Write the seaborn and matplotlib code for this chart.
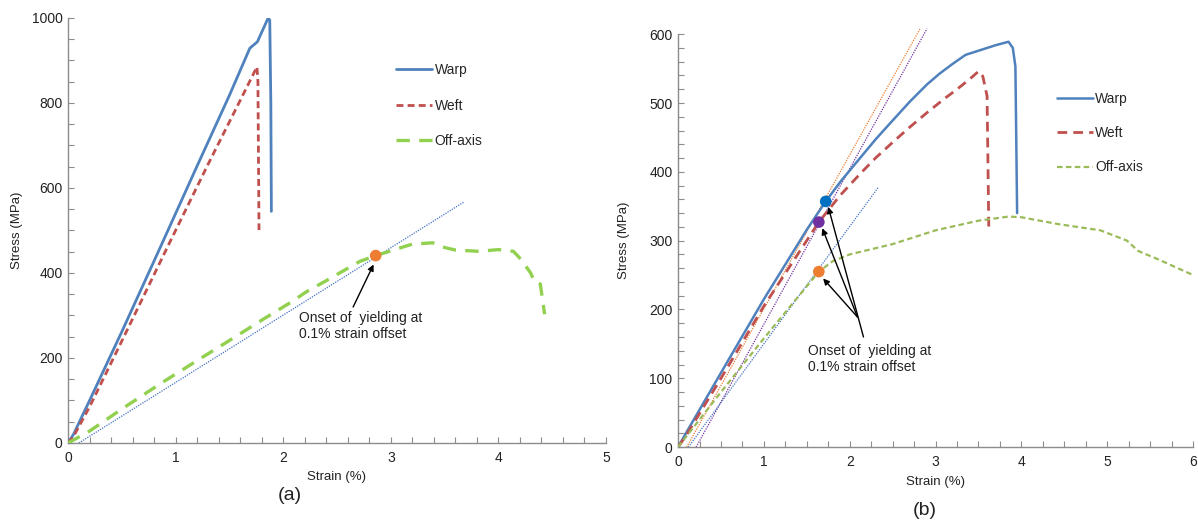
import numpy as np
import pandas as pd
import matplotlib
matplotlib.use("Agg")
import matplotlib.pyplot as plt
from matplotlib.lines import Line2D
from matplotlib.ticker import MultipleLocator
import seaborn as sns

sns.set_theme(style="white")
plt.rcParams['font.family'] = ['Liberation Sans', 'DejaVu Sans']

# ---------------- Data: panel (a) ----------------
warp_a_x = [0, 0.05, 0.2, 0.5, 0.855, 1.2, 1.5, 1.69, 1.76, 1.86, 1.875, 1.885, 1.89]
warp_a_y = [0, 20, 100, 262, 459, 652, 818, 929, 944, 1000, 995, 800, 545]
weft_a_x = [0, 0.05, 0.2, 0.5, 0.92, 1.3, 1.6, 1.756, 1.765, 1.775]
weft_a_y = [0, 15, 85, 240, 459, 655, 806, 885, 850, 501]
off_a_x = [0, 0.2, 0.5, 0.855, 1.2, 1.48, 1.8, 2.09, 2.21, 2.4, 2.71, 2.86, 3.0, 3.2,
           3.39, 3.5, 3.6, 3.82, 4.0, 4.14, 4.21, 4.3, 4.34, 4.39, 4.43]
off_a_y = [0, 28, 80, 139, 194, 238, 289, 334, 355, 382, 427, 441, 452, 468,
           471, 460, 454, 451, 455, 451, 432, 400, 377, 374, 303]
offset_a_x = [0.1, 3.68]
offset_a_y = [0, 567]
yield_a_x = [2.86]
yield_a_y = [441]

# ---------------- Data: panel (b) ----------------
warp_b_x = [0, 0.1, 0.5, 1.0, 1.5, 1.72, 1.9, 2.12, 2.3, 2.51, 2.7, 2.9, 3.05, 3.2,
            3.35, 3.4, 3.5, 3.7, 3.85, 3.9, 3.93, 3.95]
warp_b_y = [0, 22, 108, 215, 316, 357, 387, 420, 447, 476, 502, 527, 543, 557,
            570, 572, 576, 584, 589, 580, 553, 340]
weft_b_x = [0, 0.1, 0.5, 1.0, 1.64, 1.89, 2.12, 2.3, 2.51, 2.7, 2.9, 3.1, 3.25, 3.4,
            3.5, 3.55, 3.6, 3.62]
weft_b_y = [0, 18, 100, 205, 327, 366, 397, 420, 444, 465, 486, 506, 520, 535,
            546, 539, 510, 317]
off_b_x = [0, 0.1, 0.5, 1.0, 1.64, 1.8, 2.0, 2.5, 3.0, 3.5, 3.85, 4.0, 4.43, 4.92, 5.23, 5.36, 5.59, 6.0]
off_b_y = [0, 16, 80, 158, 255, 270, 280, 295, 315, 329, 335, 334, 324, 315, 300, 285, 273, 250]
offset_b_warp_x = [0.1, 2.82]
offset_b_warp_y = [0, 608]
offset_b_weft_x = [0.21, 2.9]
offset_b_weft_y = [0, 608]
offset_b_off_x = [0.12, 2.33]
offset_b_off_y = [0, 377]
yield_b_x = [1.72, 1.64, 1.64]
yield_b_y = [357, 327, 255]
yield_b_colors = ['#0070C0', '#7030A0', '#ED7D31']

labels = ['Warp', 'Weft', 'Off-axis']

C_BLUE = '#4F81BD'
C_RED = '#C0504D'
C_GREEN_A = '#92D050'
C_GREEN_B = '#9BBB59'
AX_GRAY = '#8C8C8C'
TXT = '#222222'

fig = plt.figure(figsize=(11.98, 5.26), dpi=100)
ax1 = fig.add_axes([0.0568, 0.1578, 0.449, 0.808])
ax2 = fig.add_axes([0.566, 0.150, 0.4299, 0.785])


def line(ax, x, y, color, lw, ls, zorder=3, clip=True):
    sns.lineplot(x=x, y=y, ax=ax, sort=False, estimator=None, color=color,
                 linewidth=lw, linestyle=ls, zorder=zorder, clip_on=clip)


# ---- panel (a)
line(ax1, offset_a_x, offset_a_y, '#4472C4', 0.9, (0, (1, 1)), zorder=2)
line(ax1, warp_a_x, warp_a_y, C_BLUE, 2.0, '-')
line(ax1, weft_a_x, weft_a_y, C_RED, 2.0, (0, (2.5, 1.5)))
line(ax1, off_a_x, off_a_y, C_GREEN_A, 2.4, (0, (4, 2.8)))
sns.scatterplot(x=yield_a_x, y=yield_a_y, ax=ax1, color='#ED7D31', s=70,
                edgecolor='none', zorder=5)
ax1.annotate('', xy=(2.84, 420), xytext=(2.65, 320),
             arrowprops=dict(arrowstyle='-|>', color='black', lw=1.0,
                             mutation_scale=9, shrinkA=0, shrinkB=0))
ax1.text(2.15, 310, 'Onset of  yielding at\n0.1% strain offset', fontsize=10,
         va='top', ha='left', color=TXT, linespacing=1.15)

ax1.set_xlim(0, 5)
ax1.set_ylim(0, 1000)
ax1.xaxis.set_major_locator(MultipleLocator(1))
ax1.xaxis.set_minor_locator(MultipleLocator(0.2))
ax1.yaxis.set_major_locator(MultipleLocator(200))
ax1.yaxis.set_minor_locator(MultipleLocator(50))
ax1.set_xlabel('Strain (%)', fontsize=9.5, color=TXT, labelpad=4)
ax1.set_ylabel('Stress (MPa)', fontsize=9.5, color=TXT, labelpad=6)

h_a = [Line2D([], [], color=C_BLUE, lw=2.0, ls='-'),
       Line2D([], [], color=C_RED, lw=2.0, ls=(0, (2.5, 1.5))),
       Line2D([], [], color=C_GREEN_A, lw=2.4, ls=(0, (4, 2.8)))]
ax1.legend(h_a, labels, loc='upper left', bbox_to_anchor=(0.6, 0.907), frameon=False,
           fontsize=10, handlelength=2.6, handletextpad=0.15, labelspacing=1.55,
           borderaxespad=0)

# ---- panel (b)
line(ax2, offset_b_warp_x, offset_b_warp_y, '#ED7D31', 0.9, (0, (1, 1)), zorder=2, clip=False)
line(ax2, offset_b_weft_x, offset_b_weft_y, '#7030A0', 0.9, (0, (1, 1)), zorder=2, clip=False)
line(ax2, offset_b_off_x, offset_b_off_y, '#4472C4', 0.9, (0, (1, 1)), zorder=2)
line(ax2, warp_b_x, warp_b_y, C_BLUE, 1.8, '-')
line(ax2, weft_b_x, weft_b_y, C_RED, 2.0, (0, (3.5, 2.2)))
line(ax2, off_b_x, off_b_y, C_GREEN_B, 1.6, (0, (2.5, 1.5)))
sns.scatterplot(x=yield_b_x, y=yield_b_y, ax=ax2, hue=labels, palette=yield_b_colors,
                s=70, edgecolor='none', zorder=5, legend=False)
arrow_tails = [(2.16, 160), (2.09, 189), (2.09, 189)]
arrow_heads = [(1.75, 349), (1.68, 318), (1.69, 245)]
for (tx, ty), (hx, hy) in zip(arrow_tails, arrow_heads):
    ax2.annotate('', xy=(hx, hy), xytext=(tx, ty),
                 arrowprops=dict(arrowstyle='-|>', color='black', lw=1.0,
                                 mutation_scale=9, shrinkA=0, shrinkB=0))
ax2.text(1.515, 150, 'Onset of  yielding at\n0.1% strain offset', fontsize=10,
         va='top', ha='left', color=TXT, linespacing=1.15)

ax2.set_xlim(0, 6)
ax2.set_ylim(0, 600)
ax2.xaxis.set_major_locator(MultipleLocator(1))
ax2.xaxis.set_minor_locator(MultipleLocator(0.25))
ax2.yaxis.set_major_locator(MultipleLocator(100))
ax2.yaxis.set_minor_locator(MultipleLocator(20))
ax2.set_xlabel('Strain (%)', fontsize=9.5, color=TXT, labelpad=5)
ax2.set_ylabel('Stress (MPa)', fontsize=9.5, color=TXT, labelpad=14)

h_b = [Line2D([], [], color=C_BLUE, lw=1.8, ls='-'),
       Line2D([], [], color=C_RED, lw=2.0, ls=(0, (3.5, 2.2))),
       Line2D([], [], color=C_GREEN_B, lw=1.6, ls=(0, (2.5, 1.5)))]
ax2.legend(h_b, labels, loc='upper left', bbox_to_anchor=(0.725, 0.873), frameon=False,
           fontsize=10, handlelength=2.6, handletextpad=0.15, labelspacing=1.45,
           borderaxespad=0)

for ax in (ax1, ax2):
    sns.despine(ax=ax)
    for sp in ('left', 'bottom'):
        ax.spines[sp].set_color(AX_GRAY)
        ax.spines[sp].set_linewidth(1.0)
    ax.tick_params(which='both', direction='in', color=AX_GRAY, width=0.8,
                   bottom=True, left=True, top=False, right=False)
    ax.tick_params(which='major', length=4, labelsize=10, labelcolor=TXT, pad=4)
    ax.tick_params(which='minor', length=4)
    ax.tick_params(axis='x', which='major', pad=6)
    ax.set_facecolor('white')

fig.text(0.242, 0.058, '(a)', fontsize=14, ha='center', va='center', color=TXT)
fig.text(0.772, 0.030, '(b)', fontsize=14, ha='center', va='center', color=TXT)

fig.savefig('out.png', dpi=100, facecolor='white')
